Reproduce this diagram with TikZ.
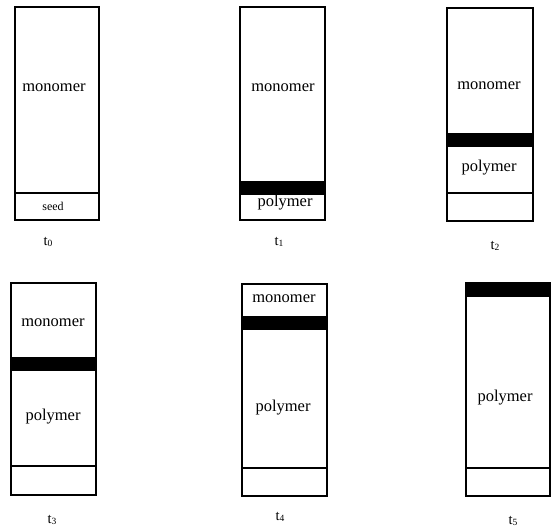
\documentclass[tikz,border=0pt]{standalone}
\usepackage{fontspec}
\setmainfont{Liberation Serif}
\tikzset{
  tube/.style={draw, line width=1.1pt},
  band/.style={fill=black},
  sepline/.style={draw, line width=1.1pt},
  big/.style={font=\fontsize{16.5}{18}\selectfont, inner sep=0pt},
  small/.style={font=\fontsize{12}{14}\selectfont, inner sep=0pt},
  tlabel/.style={font=\fontsize{14.5}{16}\selectfont, inner sep=0pt},
}
\newcommand{\tstep}[1]{t{\fontsize{9.5}{10}\selectfont\raisebox{-0.6pt}{#1}}}
\begin{document}
\begin{tikzpicture}[x=1pt,y=-1pt]
\useasboundingbox (0,0) rectangle (551,527);
% ---- t0
\draw[sepline] (15,193) -- (99,193);
\draw[tube] (15,7) rectangle (99,220);
\node[big] (m0) at (54,88) {monomer};
\node[small] (s0) at (53,206) {seed};
\node[tlabel] (l0) at (48,242) {\tstep{0}};
% ---- t1
\fill[band] (240,181) rectangle (325,195);
\draw[tube] (240,7) rectangle (325,220);
\node[big] (m1) at (283,88) {monomer};
\node[big] (p1) at (285,203) {polymer};
\node[tlabel] (l1) at (279,242) {\tstep{1}};
% ---- t2
\fill[band] (447,133) rectangle (533,147);
\draw[sepline] (447,193) -- (533,193);
\draw[tube] (447,8) rectangle (533,221);
\node[big] (m2) at (489,86) {monomer};
\node[big] (p2) at (489,168) {polymer};
\node[tlabel] (l2) at (495,246) {\tstep{2}};
% ---- t3
\fill[band] (11,357) rectangle (96,371);
\draw[sepline] (11,466) -- (96,466);
\draw[tube] (11,283) rectangle (96,495);
\node[big] (m3) at (53,323) {monomer};
\node[big] (p3) at (53,417) {polymer};
\node[tlabel] (l3) at (52,520) {\tstep{3}};
% ---- t4
\fill[band] (242,316) rectangle (327,330);
\draw[sepline] (242,468) -- (327,468);
\draw[tube] (242,284) rectangle (327,496);
\node[big] (m4) at (284,299) {monomer};
\node[big] (p4) at (283,408) {polymer};
\node[tlabel] (l4) at (280,517) {\tstep{4}};
% ---- t5
\fill[band] (466,283) rectangle (550,297);
\draw[sepline] (466,468) -- (550,468);
\draw[tube] (466,283) rectangle (550,496);
\node[big] (p5) at (505,398) {polymer};
\node[tlabel] (l5) at (513,521) {\tstep{5}};
\end{tikzpicture}
\end{document}
